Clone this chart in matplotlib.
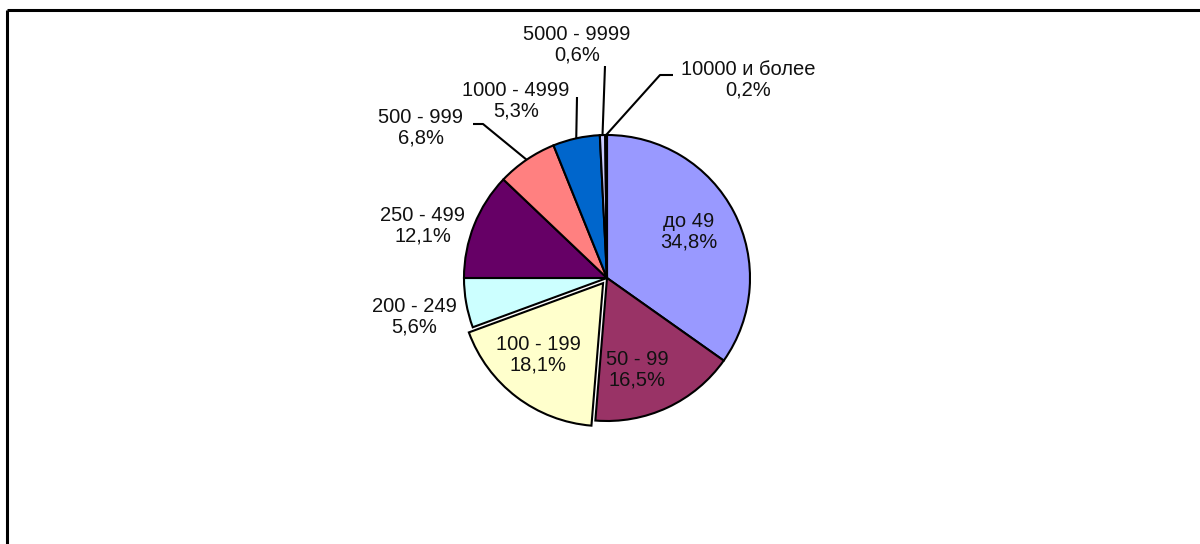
import matplotlib
matplotlib.use("Agg")
import matplotlib.pyplot as plt
import numpy as np

categories = ["до 49", "50 - 99", "100 - 199", "200 - 249", "250 - 499",
              "500 - 999", "1000 - 4999", "5000 - 9999", "10000 и более"]
values = [34.8, 16.5, 18.1, 5.6, 12.1, 6.8, 5.3, 0.6, 0.2]
pct_labels = ["34,8%", "16,5%", "18,1%", "5,6%", "12,1%", "6,8%", "5,3%", "0,6%", "0,2%"]
colors = ["#9999FF", "#993366", "#FFFFCC", "#CCFFFF", "#660066",
          "#FF8080", "#0066CC", "#CCCCFF", "#FFFFFF"]
explode_frac = [0, 0, 0.045, 0, 0, 0, 0, 0, 0]

W, H = 1200, 544
fig = plt.figure(figsize=(W / 100, H / 100), dpi=100)
ax = fig.add_axes([0, 0, 1, 1])

cx, cy, R = 607, H - 278, 143
# matplotlib's explode offset is in data units, so scale by radius
wedges, _ = ax.pie(values, colors=colors, explode=[e * R for e in explode_frac],
                   startangle=90, counterclock=False, center=(cx, cy), radius=R,
                   wedgeprops=dict(edgecolor="black", linewidth=1.5))
ax.set_xlim(0, W)
ax.set_ylim(0, H)
ax.set_aspect("equal")
ax.axis("off")

font = dict(family=["Liberation Sans", "DejaVu Sans"], fontsize=14.5,
            ha="center", va="center", linespacing=1.12, color="#111111")

# label positions (pixel layout, y from top)
label_pos = [(689, 232), (637, 370), (538, 355), (414, 317), (423, 226),
             (421, 128), (516, 101), (577, 45), (748, 80)]
for name, pct, (x, y) in zip(categories, pct_labels, label_pos):
    ax.text(x, H - y, f"{name}\n{pct}", **font)

# leader lines: from wedge midpoint on the rim to elbow points
def rim_point(i):
    w = wedges[i]
    th = np.deg2rad((w.theta1 + w.theta2) / 2)
    return (w.center[0] + R * np.cos(th), w.center[1] + R * np.sin(th))

leaders = {5: [(483, 124), (473, 124)],
           6: [(577, 97)],
           7: [(605, 66)],
           8: [(660, 75), (673, 75)]}
for i, pts in leaders.items():
    x0, y0 = rim_point(i)
    xs = [x0] + [p[0] for p in pts]
    ys = [y0] + [H - p[1] for p in pts]
    ax.plot(xs, ys, color="black", linewidth=1.5, solid_capstyle="butt")

# frame lines (top and left)
ax.plot([7, W], [H - 10, H - 10], color="black", linewidth=2.2, solid_capstyle="butt")
ax.plot([7, 7], [H - 10, 0], color="black", linewidth=2.2, solid_capstyle="butt")

fig.savefig("out.png", dpi=100, facecolor="white")
